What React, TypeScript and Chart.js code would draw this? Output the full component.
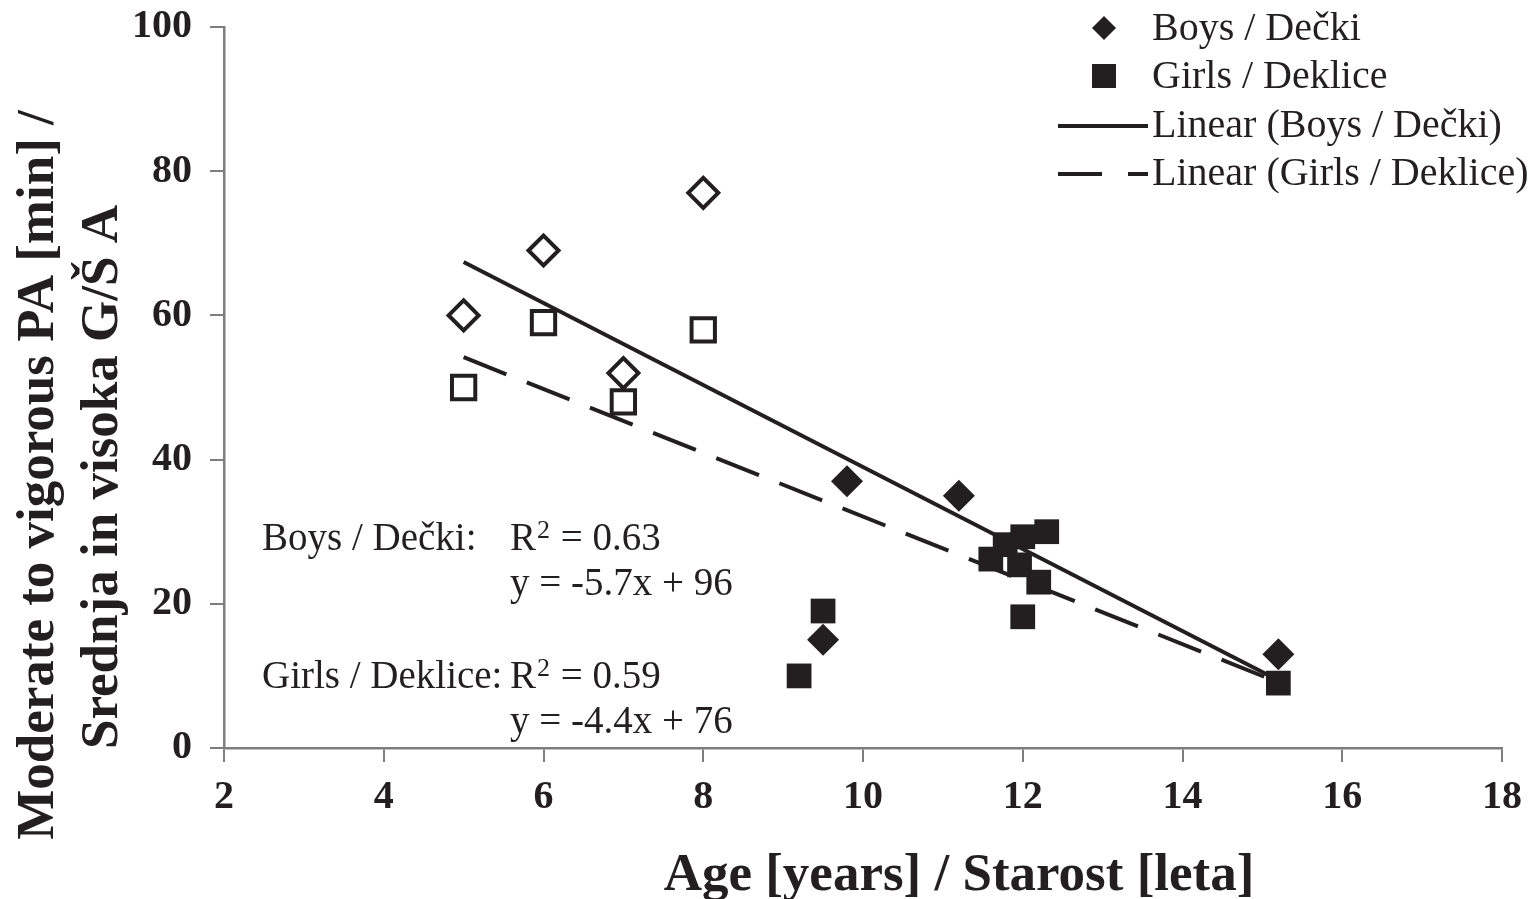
import React, { useEffect, useRef } from 'react';
import { Chart, registerables } from 'chart.js';

Chart.register(...registerables);

// ---------- data ----------
const boysOpenAge = [5, 6, 7, 8];
const boysOpenPA = [60, 69, 52, 77];
const girlsOpenAge = [5, 6, 7, 8];
const girlsOpenPA = [50, 59, 48, 58];

const boysAge = [9.8, 11.2, 9.5, 15.2];
const boysPA = [37, 35, 15, 13];
const girlsAge = [9.2, 9.5, 11.6, 11.78, 12.0, 11.96, 12.2, 12.3, 12.0, 15.2];
const girlsPA = [10, 19, 26.2, 28.2, 29.3, 25.4, 23, 30, 18.2, 9];

const boysTrendAge = [5, 15.2];
const boysTrendPA = [67.4, 9.4];
const girlsTrendAge = [5, 15.2];
const girlsTrendPA = [54.2, 9.1];

const xTicks = [2, 4, 6, 8, 10, 12, 14, 16, 18];
const yTicks = [0, 20, 40, 60, 80, 100];

const seriesLabels = ['Boys / Dečki', 'Girls / Deklice', 'Linear (Boys / Dečki)', 'Linear (Girls / Deklice)'];
const xTitle = 'Age [years] / Starost [leta]';
const yTitleLines = ['Moderate to vigorous PA [min] /', 'Srednja in visoka G/Š A'];
const statLabels = ['Boys / Dečki:', 'Girls / Deklice:'];
const statR2Values = ['0.63', '0.59'];
const statEq = ['y = -5.7x + 96', 'y = -4.4x + 76'];

const INK = '#231f20';
const AXIS = '#7d7d7d';
const SERIF = '"Liberation Serif", "Times New Roman", serif';

const pts = (xs: number[], ys: number[]) => xs.map((x, i) => ({ x, y: ys[i] }));

const overlay = {
  id: 'overlay',
  afterDraw(chart: any) {
    const ctx = chart.ctx as CanvasRenderingContext2D;
    ctx.save();
    ctx.fillStyle = INK;
    ctx.strokeStyle = INK;

    // axis titles
    ctx.font = `bold 53px ${SERIF}`;
    ctx.textAlign = 'center';
    ctx.textBaseline = 'alphabetic';
    ctx.fillText(xTitle, 959, 890);
    const yCenters = [[53, 475], [117, 477]];
    yTitleLines.forEach((t, i) => {
      ctx.save();
      ctx.translate(yCenters[i][0], yCenters[i][1]);
      ctx.rotate(-Math.PI / 2);
      ctx.fillText(t, 0, 0);
      ctx.restore();
    });

    // regression stats
    ctx.textAlign = 'left';
    const rows = [[550, 595], [688, 733]];
    statLabels.forEach((lab, i) => {
      ctx.font = `39px ${SERIF}`;
      ctx.fillText(lab, 262, rows[i][0]);
      ctx.fillText('R', 510, rows[i][0]);
      const rw = ctx.measureText('R').width;
      ctx.font = `26px ${SERIF}`;
      ctx.fillText('2', 510 + rw + 1, rows[i][0] - 12);
      const sw = ctx.measureText('2').width;
      ctx.font = `39px ${SERIF}`;
      ctx.fillText(' = ' + statR2Values[i], 510 + rw + sw + 2, rows[i][0]);
      ctx.fillText(statEq[i], 510, rows[i][1]);
    });

    // legend
    const tx = 1152;
    ctx.font = `40px ${SERIF}`;
    ctx.beginPath();
    const dx = 1104, dy = 28, dr = 12;
    ctx.moveTo(dx - dr, dy); ctx.lineTo(dx, dy - dr); ctx.lineTo(dx + dr, dy); ctx.lineTo(dx, dy + dr);
    ctx.closePath(); ctx.fill();
    ctx.fillText(seriesLabels[0], tx, 40);
    ctx.fillRect(1092, 64, 24, 24);
    ctx.fillText(seriesLabels[1], tx, 88);
    ctx.lineWidth = 4;
    ctx.beginPath(); ctx.moveTo(1058, 126); ctx.lineTo(1148, 126); ctx.stroke();
    ctx.fillText(seriesLabels[2], tx, 137);
    ctx.beginPath(); ctx.moveTo(1058, 174); ctx.lineTo(1102, 174); ctx.stroke();
    ctx.beginPath(); ctx.moveTo(1128, 174); ctx.lineTo(1148, 174); ctx.stroke();
    ctx.fillText(seriesLabels[3], tx, 185);
    ctx.restore();
  },
};

export default function App() {
  const ref = useRef<HTMLCanvasElement | null>(null);
  useEffect(() => {
    if (!ref.current) return;
    const chart = new Chart(ref.current, {
      type: 'scatter',
      data: {
        datasets: [
          {
            label: seriesLabels[2],
            data: pts(boysTrendAge, boysTrendPA),
            showLine: true,
            borderColor: INK,
            borderWidth: 4,
            pointRadius: 0,
            order: 0,
          },
          {
            label: seriesLabels[3],
            data: pts(girlsTrendAge, girlsTrendPA),
            showLine: true,
            borderColor: INK,
            borderWidth: 4,
            borderDash: [46, 22],
            pointRadius: 0,
            order: 0,
          },
          {
            label: seriesLabels[0],
            data: pts(boysAge, boysPA),
            pointStyle: 'rectRot',
            pointRadius: 16,
            backgroundColor: INK,
            borderColor: INK,
            borderWidth: 0,
            order: 1,
          },
          {
            label: seriesLabels[1],
            data: pts(girlsAge, girlsPA),
            pointStyle: 'rect',
            pointRadius: 17.5,
            backgroundColor: INK,
            borderColor: INK,
            borderWidth: 0,
            order: 1,
          },
          {
            label: 'boys-open',
            data: pts(boysOpenAge, boysOpenPA),
            pointStyle: 'rectRot',
            pointRadius: 15,
            backgroundColor: '#ffffff',
            borderColor: INK,
            borderWidth: 4,
            order: 1,
          },
          {
            label: 'girls-open',
            data: pts(girlsOpenAge, girlsOpenPA),
            pointStyle: 'rect',
            pointRadius: 16.5,
            backgroundColor: '#ffffff',
            borderColor: INK,
            borderWidth: 4,
            order: 1,
          },
        ],
      },
      options: {
        animation: false,
        responsive: false,
        events: [],
        layout: { padding: { left: 0, top: 27, right: 36, bottom: 0 } },
        plugins: { legend: { display: false }, tooltip: { enabled: false } },
        scales: {
          x: {
            type: 'linear',
            min: xTicks[0],
            max: xTicks[xTicks.length - 1],
            afterBuildTicks: (s: any) => { s.ticks = xTicks.map((v) => ({ value: v })); },
            afterFit: (s: any) => { s.height = 151; s.paddingLeft = 0; s.paddingRight = 0; },
            grid: { drawOnChartArea: false, drawTicks: true, tickLength: 14, color: AXIS, lineWidth: 2 },
            border: { display: true, color: AXIS, width: 2.5 },
            ticks: { color: INK, padding: 12, font: { family: SERIF, size: 40, weight: 'bold' } },
          },
          y: {
            type: 'linear',
            min: yTicks[0],
            max: yTicks[yTicks.length - 1],
            afterBuildTicks: (s: any) => { s.ticks = yTicks.map((v) => ({ value: v })); },
            afterFit: (s: any) => { s.width = 224; s.paddingTop = 0; s.paddingBottom = 0; },
            grid: { drawOnChartArea: false, drawTicks: true, tickLength: 14, color: AXIS, lineWidth: 2 },
            border: { display: true, color: AXIS, width: 2.5 },
            ticks: { color: INK, padding: 18, font: { family: SERIF, size: 40, weight: 'bold' } },
          },
        },
      },
      plugins: [overlay],
    } as any);
    return () => chart.destroy();
  }, []);
  return (
    <div style={{ position: 'absolute', left: 0, top: 0, width: 1538, height: 899, background: '#fff' }}>
      <canvas ref={ref} width={1538} height={899} style={{ display: 'block' }} />
    </div>
  );
}
